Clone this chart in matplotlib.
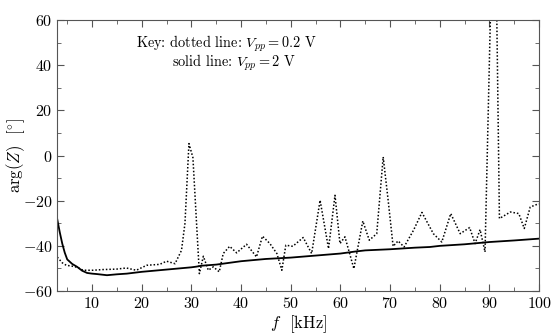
import numpy as np
from matplotlib import pyplot as plt
from matplotlib.ticker import MultipleLocator

# dotted line: Vpp = 0.2 V
f_low = [3, 4, 4.8, 6, 7, 8.2, 10.2, 12.2, 14.9, 16.9, 18.9, 21, 23.6, 25, 26.7,
         28, 28.7, 29.5, 30.3, 31, 31.6, 32.4, 33.4, 34.4, 35.6, 36.4, 37.7,
         39.1, 41.1, 43.1, 44.3, 45.8, 47.2, 48.2, 49.0, 50.4, 52.5, 54.2, 55.9,
         57.6, 58.9, 59.9, 60.9, 62.7, 64.5, 65.8, 67.3, 68.6, 69.6, 70.6, 71.6,
         72.8, 74.7, 76.4, 78.7, 80.4, 82.2, 84.1, 86.0, 87.1, 88.1, 89.1, 91,
         92, 94.2, 95.9, 97.0, 98.2, 99.6, 100]
arg_low = [-45, -47.5, -48.6, -49, -49.5, -50.8, -50.8, -50.5, -50.3, -49.8,
           -50.8, -48.6, -48.2, -46.8, -47.9, -42, -30, 5.3, -0.9, -28.7, -52.3,
           -44.6, -50.8, -49.3, -51.5, -43.4, -40.2, -43.1, -39.3, -44.9, -35.7,
           -39, -43.4, -50.8, -39.7, -40.2, -36.3, -43.4, -19.8, -41.2, -17.6,
           -39, -36, -50.1, -29, -37.5, -34.6, -0.6, -19.8, -40.2, -37.8, -40.5,
           -33.1, -25.2, -34.6, -38.3, -25.7, -34.6, -31.9, -39, -32.8, -42.7,
           140, -27.9, -25, -25.7, -32.3, -22.8, -21.6, -21.5]

# solid line: Vpp = 2 V
f_high = [3, 3.5, 4, 4.5, 5, 6, 7, 8, 9, 10, 11, 13, 15, 17, 20, 25, 30, 31, 32,
          35, 40, 45, 50, 55, 60, 63, 65, 70, 75, 78, 80, 85, 88, 90, 95, 100]
arg_high = [-28.3, -34, -39, -43, -46, -48, -49.3, -51, -52, -52.3, -52.5, -53,
            -52.6, -52.3, -51.5, -50.5, -49.5, -49.2, -48.8, -48.3, -46.8, -45.8,
            -45.2, -44.3, -43.4, -42.5, -42, -41.5, -40.8, -40.5, -40, -39.3,
            -38.7, -38.3, -37.6, -36.8]

plt.rcParams['font.family'] = 'cmr10'
plt.rcParams['mathtext.fontset'] = 'cm'
plt.rcParams['axes.formatter.use_mathtext'] = True
plt.rcParams['font.size'] = 10


def main():
    fig, ax = plt.subplots(figsize=(5.53, 3.35), dpi=100)
    fig.subplots_adjust(left=0.1036, right=0.975, bottom=0.1313, top=0.940)

    ax.plot(f_low, arg_low, color='black', linestyle=(0, (1, 1.3)), linewidth=1.1)
    ax.plot(f_high, arg_high, color='black', linewidth=1.3)

    ax.set_xlim(3, 100)
    ax.set_ylim(-60, 60)
    ax.xaxis.set_major_locator(MultipleLocator(10))
    ax.xaxis.set_minor_locator(MultipleLocator(5))
    ax.yaxis.set_major_locator(MultipleLocator(20))
    ax.yaxis.set_minor_locator(MultipleLocator(10))
    ax.tick_params(which='both', direction='in', top=True, right=True,
                   color='#555555', labelsize=11.5)
    ax.tick_params(which='major', length=5)
    ax.tick_params(which='minor', length=3)
    for s in ax.spines.values():
        s.set_color('#555555')

    ax.set_xlabel(r'$f$  [kHz]', size=12, labelpad=2)
    ax.set_ylabel(r'$\arg(Z)$  $[^{\circ}]$', size=12, labelpad=-3)

    # key, two lines
    ax.text(37.1, 49.4, r'Key: dotted line: $V_{pp} = 0.2$ V', ha='center',
            va='center', size=10.3)
    ax.text(38.5, 41.0, r'solid line: $V_{pp} = 2$ V', ha='center',
            va='center', size=10.3)

    fig.savefig('out.png')


if __name__ == '__main__':
    main()
